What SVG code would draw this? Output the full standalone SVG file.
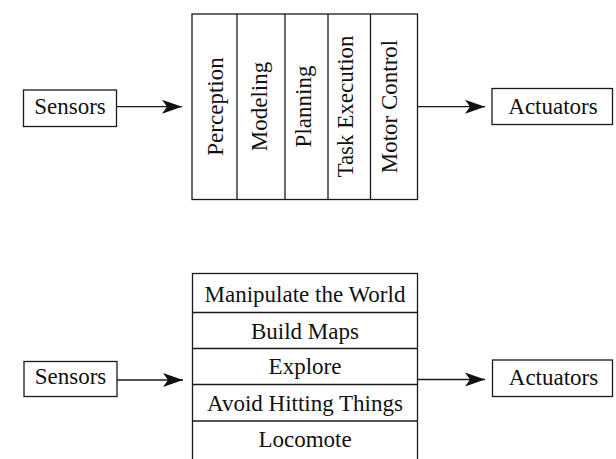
<svg xmlns="http://www.w3.org/2000/svg" width="616" height="459" viewBox="0 0 616 459">
<defs>
<style>
.box{fill:#fff;stroke:#1a1a1a;stroke-width:1.3}
.ln{stroke:#1a1a1a;stroke-width:1.3;fill:none}
.t{font-family:"Liberation Serif","Times New Roman",serif;font-size:23px;fill:#111;text-anchor:middle}
</style>
<marker id="ah" markerUnits="userSpaceOnUse" markerWidth="22" markerHeight="16" refX="21" refY="8" orient="auto" viewBox="0 0 22 16">
<path d="M21,8 L1,1 L6,8 L1,15 Z" fill="#111"/>
</marker>
</defs>
<rect width="616" height="459" fill="#fff"/>

<g id="sensors-top">
<rect class="box" x="23.5" y="90" width="93" height="36.5"/>
<text class="t" x="70" y="113.5">Sensors</text>
</g>
<g id="actuators-top">
<rect class="box" x="492" y="88.5" width="120.5" height="36"/>
<text class="t" x="553" y="113.5">Actuators</text>
</g>
<g id="horizontal-stack">
<rect class="box" x="192" y="14" width="225.5" height="185.5"/>
<line class="ln" x1="237" y1="14" x2="237" y2="199.5"/>
<line class="ln" x1="285" y1="14" x2="285" y2="199.5"/>
<line class="ln" x1="328" y1="14" x2="328" y2="199.5"/>
<line class="ln" x1="370.5" y1="14" x2="370.5" y2="199.5"/>
<text class="t" transform="translate(222.5,106.5) rotate(-90)">Perception</text>
<text class="t" transform="translate(266.5,106.5) rotate(-90)">Modeling</text>
<text class="t" transform="translate(311,106.5) rotate(-90)">Planning</text>
<text class="t" transform="translate(353,106.5) rotate(-90)">Task Execution</text>
<text class="t" transform="translate(396.5,106.5) rotate(-90)">Motor Control</text>
</g>

<g id="sensors-bottom">
<rect class="box" x="24" y="361.5" width="93" height="35"/>
<text class="t" x="70.5" y="384">Sensors</text>
</g>
<g id="actuators-bottom">
<rect class="box" x="492.5" y="360" width="120" height="36.5"/>
<text class="t" x="553.5" y="384.5">Actuators</text>
</g>
<g id="vertical-stack">
<rect class="box" x="192.5" y="273.5" width="225" height="195"/>
<line class="ln" x1="192.5" y1="312.5" x2="417.5" y2="312.5"/>
<line class="ln" x1="192.5" y1="348.5" x2="417.5" y2="348.5"/>
<line class="ln" x1="192.5" y1="384.5" x2="417.5" y2="384.5"/>
<line class="ln" x1="192.5" y1="421" x2="417.5" y2="421"/>
<text class="t" x="305" y="302">Manipulate the World</text>
<text class="t" x="305" y="338.5">Build Maps</text>
<text class="t" x="305" y="374">Explore</text>
<text class="t" x="305" y="410.5">Avoid Hitting Things</text>
<text class="t" x="305" y="447">Locomote</text>
</g>

<g id="connectors">
<line class="ln" x1="116.5" y1="106.7" x2="182" y2="106.7" marker-end="url(#ah)"/>
<line class="ln" x1="417.5" y1="106.7" x2="485" y2="106.7" marker-end="url(#ah)"/>
<line class="ln" x1="117" y1="380" x2="183" y2="380" marker-end="url(#ah)"/>
<line class="ln" x1="417.5" y1="379.5" x2="485" y2="379.5" marker-end="url(#ah)"/>
</g>
</svg>
